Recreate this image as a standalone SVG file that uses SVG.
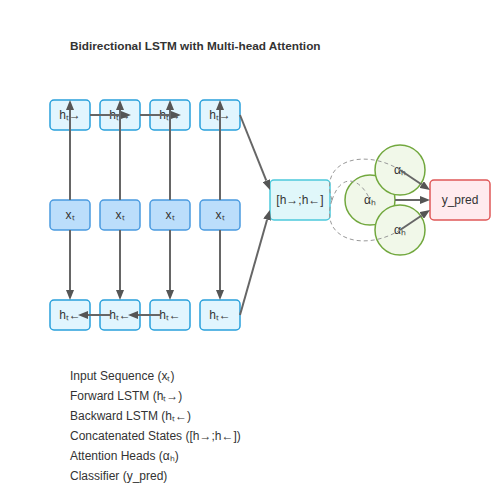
<svg xmlns="http://www.w3.org/2000/svg" width="500" height="500" viewBox="0 0 500 500">
<defs>
<marker id="ah" viewBox="0 0 10 8" refX="0" refY="4" markerWidth="10" markerHeight="8" markerUnits="userSpaceOnUse" orient="auto">
<path d="M0,0 L10,4 L0,8 Z" fill="#555"/>
</marker>
<style>
text{font-family:"Liberation Sans",Arial,sans-serif;fill:#333;font-size:12px}
.t{text-anchor:middle}
.fw rect{fill:#e1f5fe;stroke:#29a0db;stroke-width:1.5}
.in rect{fill:#bbdefb;stroke:#4a9be0;stroke-width:1.5}
.cat rect{fill:#e0f7fa;stroke:#4cc9dc;stroke-width:1.5}
.out rect{fill:#ffebee;stroke:#e05858;stroke-width:1.5}
.att circle{fill:#f1f8e9;stroke:#72a83e;stroke-width:1.5}
.c line{stroke:#666;stroke-width:2;marker-end:url(#ah)}
.d path{fill:none;stroke:#999;stroke-width:1;stroke-dasharray:4 3}
</style>
</defs>
<rect width="500" height="500" fill="#fff"/>
<text x="70" y="50" style="font-weight:bold;font-size:11.8px">Bidirectional LSTM with Multi-head Attention</text>

<g id="fwd1" class="fw"><rect x="50" y="100" width="40" height="30" rx="4"/><text class="t" x="70" y="119">hₜ→</text></g>
<g id="fwd2" class="fw"><rect x="100" y="100" width="40" height="30" rx="4"/><text class="t" x="120" y="119">hₜ→</text></g>
<g id="fwd3" class="fw"><rect x="150" y="100" width="40" height="30" rx="4"/><text class="t" x="170" y="119">hₜ→</text></g>
<g id="fwd4" class="fw"><rect x="200" y="100" width="40" height="30" rx="4"/><text class="t" x="220" y="119">hₜ→</text></g>

<g id="in1" class="in"><rect x="50" y="200" width="40" height="30" rx="4"/><text class="t" x="70" y="219">xₜ</text></g>
<g id="in2" class="in"><rect x="100" y="200" width="40" height="30" rx="4"/><text class="t" x="120" y="219">xₜ</text></g>
<g id="in3" class="in"><rect x="150" y="200" width="40" height="30" rx="4"/><text class="t" x="170" y="219">xₜ</text></g>
<g id="in4" class="in"><rect x="200" y="200" width="40" height="30" rx="4"/><text class="t" x="220" y="219">xₜ</text></g>

<g id="bwd1" class="fw"><rect x="50" y="300" width="40" height="30" rx="4"/><text class="t" x="70" y="319">hₜ←</text></g>
<g id="bwd2" class="fw"><rect x="100" y="300" width="40" height="30" rx="4"/><text class="t" x="120" y="319">hₜ←</text></g>
<g id="bwd3" class="fw"><rect x="150" y="300" width="40" height="30" rx="4"/><text class="t" x="170" y="319">hₜ←</text></g>
<g id="bwd4" class="fw"><rect x="200" y="300" width="40" height="30" rx="4"/><text class="t" x="220" y="319">hₜ←</text></g>

<g id="concat" class="cat"><rect x="270" y="180" width="60" height="40" rx="4"/><text class="t" x="300" y="204">[h→;h←]</text></g>

<g id="heads" class="att">
<g id="head2"><circle cx="370" cy="200" r="25"/><text class="t" x="370" y="204">αₕ</text></g>
<g id="head1"><circle cx="400" cy="170" r="25"/><text class="t" x="400" y="174">αₕ</text></g>
<g id="head3"><circle cx="400" cy="230" r="25"/><text class="t" x="400" y="234">αₕ</text></g>
</g>

<g id="ypred" class="out"><rect x="430" y="180" width="60" height="40" rx="4"/><text class="t" x="460" y="204">y_pred</text></g>

<g id="connectors">
<g class="c">
<line x1="70" y1="200" x2="70" y2="110"/>
<line x1="120" y1="200" x2="120" y2="110"/>
<line x1="170" y1="200" x2="170" y2="110"/>
<line x1="220" y1="200" x2="220" y2="110"/>
<line x1="70" y1="230" x2="70" y2="290"/>
<line x1="120" y1="230" x2="120" y2="290"/>
<line x1="170" y1="230" x2="170" y2="290"/>
<line x1="220" y1="230" x2="220" y2="290"/>
<line x1="90" y1="115" x2="121" y2="115"/>
<line x1="140" y1="115" x2="171" y2="115"/>
<line x1="160" y1="315" x2="138" y2="315"/>
<line x1="110" y1="315" x2="88" y2="315"/>
<line x1="240" y1="115" x2="266.3" y2="180.7"/>
<line x1="240" y1="315" x2="267.1" y2="219.6"/>
<line x1="400" y1="170" x2="421.7" y2="184.5"/>
<line x1="395" y1="200" x2="420" y2="200"/>
<line x1="400" y1="230" x2="421.7" y2="215.5"/>
</g>
<g class="d">
<path d="M332,200 C318,160 365,148 400,170"/>
<path d="M332,200 C342,170 362,180 370,200"/>
<path d="M332,200 C318,240 365,252 400,230"/>
</g>
</g>

<g id="legend">
<text x="70" y="380">Input Sequence (xₜ)</text>
<text x="70" y="400">Forward LSTM (hₜ→)</text>
<text x="70" y="420">Backward LSTM (hₜ←)</text>
<text x="70" y="440">Concatenated States ([h→;h←])</text>
<text x="70" y="460">Attention Heads (αₕ)</text>
<text x="70" y="480">Classifier (y_pred)</text>
</g>
</svg>
